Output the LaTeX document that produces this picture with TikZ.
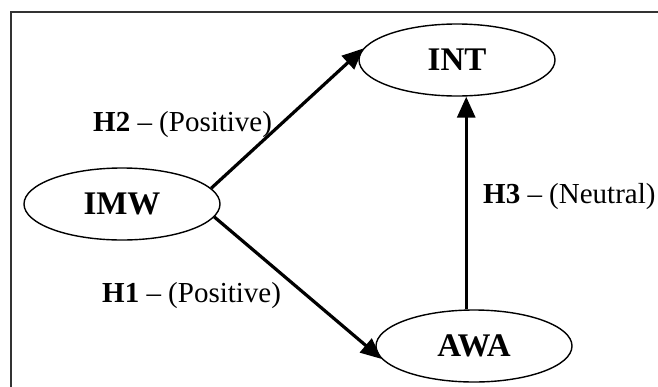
\documentclass[tikz,border=0pt]{standalone}
\usepackage{fontspec}
\setmainfont{Liberation Serif}
\usetikzlibrary{shapes.geometric,arrows.meta}
\begin{document}
\begin{tikzpicture}[x=1pt,y=-1pt,
  construct/.style={draw, ellipse, line width=1.4pt, inner sep=0pt,
    minimum width=196pt, minimum height=72pt,
    font=\fontsize{33}{38}\selectfont\bfseries},
  hyp/.style={anchor=base west, inner sep=0pt, font=\fontsize{29}{34}\selectfont},
  link/.style={line width=3.2pt, -{Triangle[length=21pt,width=18pt]}},
  frame/.style={line width=1.5pt, draw=black!80}]
\useasboundingbox (0,0) rectangle (658,386);
\draw[frame] (11,400) -- (11,12) -- (670,12);
\node[construct] (INT) at (457,60) {INT};
\node[construct] (IMW) at (122,204) {IMW};
\node[construct] (AWA) at (474,346) {AWA};
\draw[link] (IMW.10) -- (INT.173);
\draw[link] (IMW.-8) -- (AWA.188);
\draw[link] (AWA.102) -- (AWA.102 |- INT.south);
\node[hyp] (h2) at (93,131) {\textbf{H2} – (Positive)};
\node[hyp] (h1) at (102,302) {\textbf{H1} – (Positive)};
\node[hyp] (h3) at (483,203) {\textbf{H3} – (Neutral)};
\end{tikzpicture}
\end{document}
